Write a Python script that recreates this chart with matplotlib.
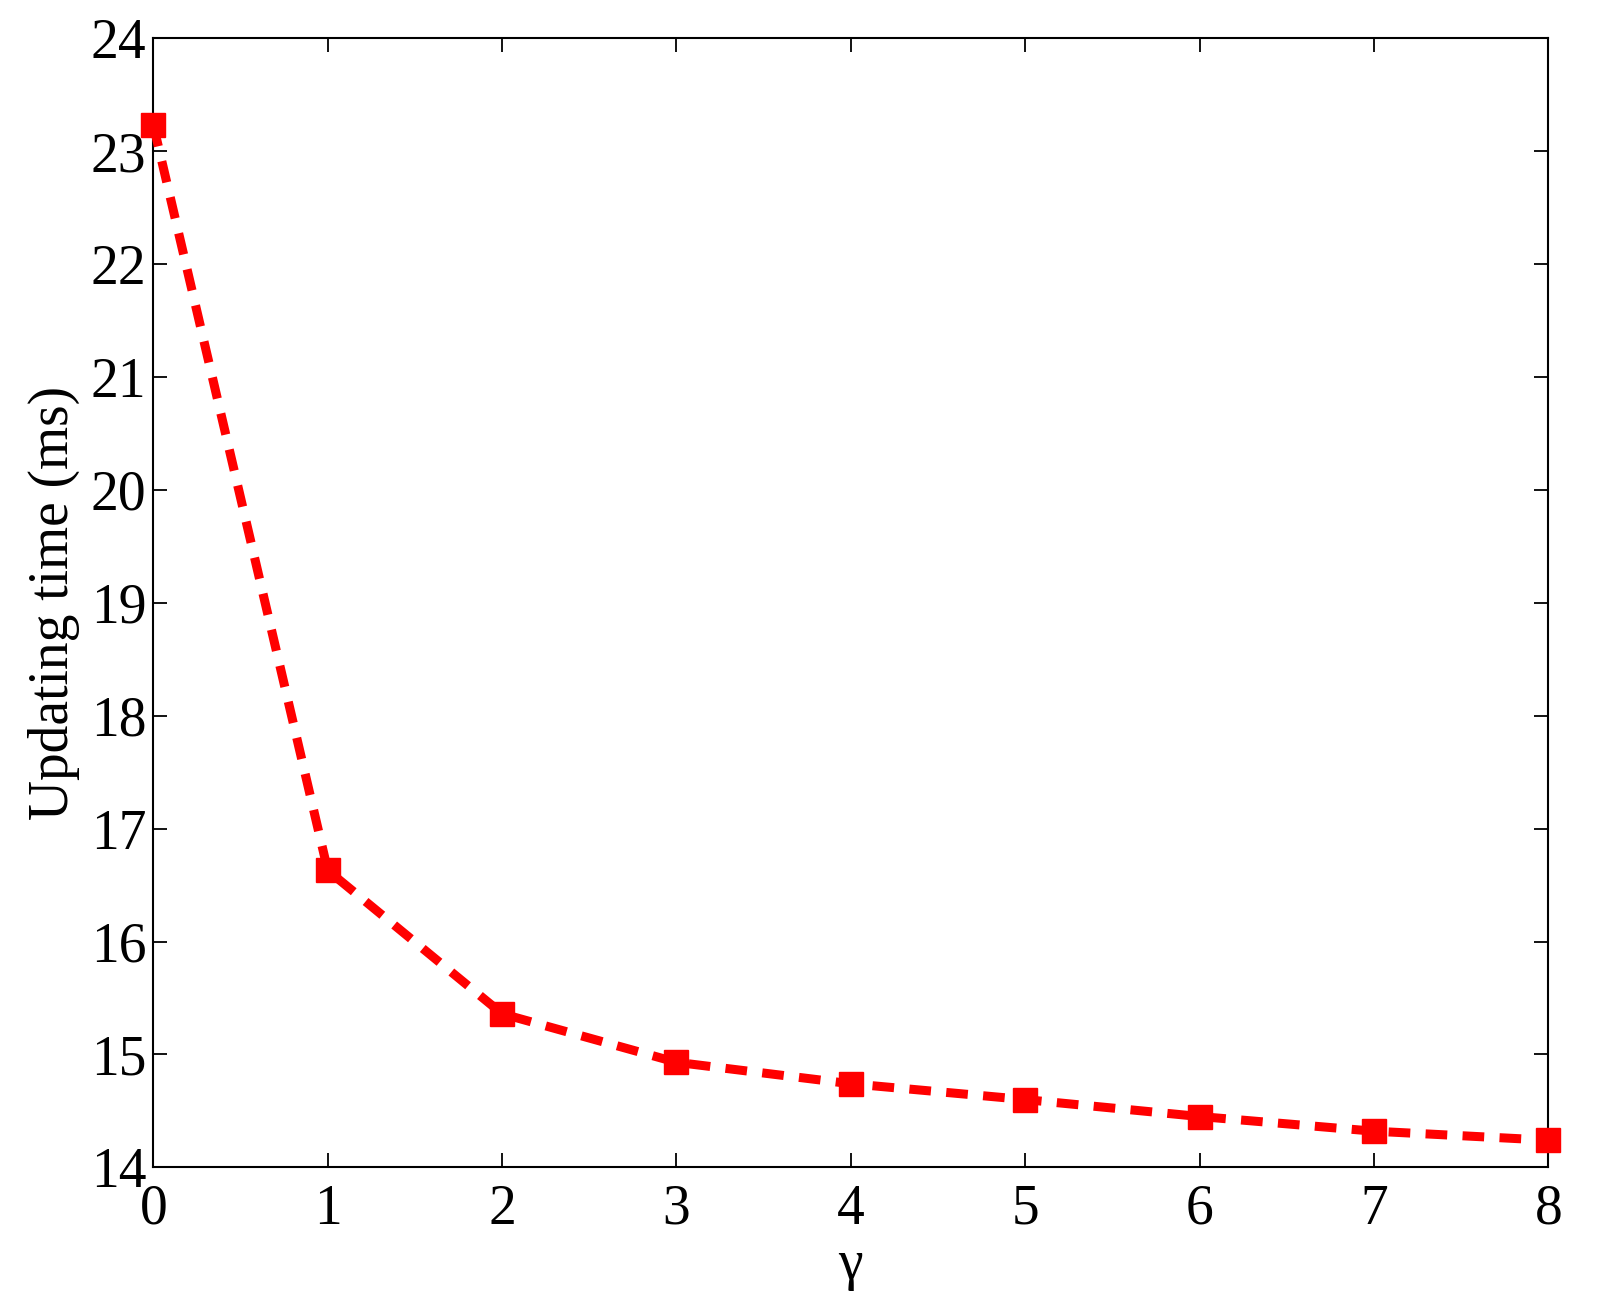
import matplotlib
matplotlib.use("Agg")
import matplotlib.pyplot as plt

gamma = [0, 1, 2, 3, 4, 5, 6, 7, 8]
update_time = [23.23, 16.63, 15.36, 14.93, 14.74, 14.60, 14.45, 14.32, 14.24]
xticks = [0, 1, 2, 3, 4, 5, 6, 7, 8]
yticks = [14, 15, 16, 17, 18, 19, 20, 21, 22, 23, 24]

plt.rcParams['font.family'] = ['Liberation Serif', 'DejaVu Serif']
plt.rcParams['mathtext.fontset'] = 'stix'

fig = plt.figure(figsize=(16.06, 13.05), dpi=100)
ax = fig.add_axes([0.0955, 0.1055, 0.9641 - 0.0955, 0.9707 - 0.1055])

ax.plot(gamma, update_time, color='red', linestyle=(0, (2.4, 1.7)), linewidth=6.5,
        dash_capstyle='butt',
        marker='s', markersize=17, markerfacecolor='red', markeredgecolor='red',
        clip_on=False, zorder=3)

ax.set_xlim(0, 8)
ax.set_ylim(14, 24)
ax.set_xticks(xticks)
ax.set_yticks(yticks)
ax.tick_params(direction='in', length=10, width=1.3, labelsize=40,
               top=True, right=True)
ax.tick_params(axis='x', pad=12)
ax.tick_params(axis='y', pad=5)
for s in ax.spines.values():
    s.set_linewidth(1.5)

ax.set_xlabel('γ', fontsize=40, labelpad=2)
ax.set_ylabel('Updating time (ms)', fontsize=40, labelpad=8)

fig.savefig('out.png', dpi=100)
